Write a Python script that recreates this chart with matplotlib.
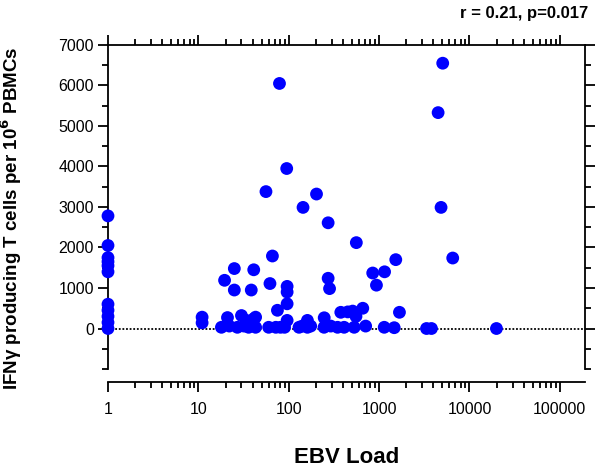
import matplotlib
matplotlib.use("Agg")
import matplotlib.pyplot as plt
from matplotlib.ticker import LogLocator, FixedLocator, NullFormatter, FuncFormatter

plt.rcParams["font.family"] = ["Liberation Sans", "DejaVu Sans"]

# EBV load (copies) vs IFN-gamma producing T cells per 10^6 PBMCs
ebv_load = [1, 1, 1, 1, 1, 1, 1, 1, 1, 1, 1,
            11, 11, 18, 19.5, 21, 22, 25, 25, 27, 30, 32, 34, 36, 38.5, 41, 41, 43, 43,
            56, 60, 62, 66, 72, 75, 79, 81, 90, 95, 96, 96, 96, 96,
            130, 141, 144, 161, 161, 175, 203, 246, 247, 273, 273, 283, 292,
            347, 377, 410, 450, 510, 530, 555, 560, 660, 710,
            850, 935, 1140, 1150, 1470, 1530, 1680,
            3350, 3800, 4500, 4850, 5060, 6530, 19900]
ifn_cells = [2780, 2050, 1750, 1650, 1550, 1400, 600, 450, 300, 150, 0,
             280, 140, 30, 1190, 270, 60, 1480, 950, 30, 320, 60, 200, 30, 950, 1450, 240, 30, 280,
             3380, 30, 1110, 1790, 30, 450, 6050, 30, 30, 3950, 1040, 900, 610, 200,
             30, 60, 2990, 200, 30, 60, 3320, 30, 265, 2610, 1240, 985, 60,
             30, 400, 30, 410, 430, 30, 300, 2120, 500, 60,
             1370, 1070, 30, 1400, 20, 1700, 400,
             0, 0, 5330, 2990, 6550, 1740, 0]

fig = plt.figure(figsize=(6, 4.72), dpi=100)
ax = fig.add_axes([0.18, 0.2182, 0.795, 0.6865])

ax.set_xscale("log")
ax.set_xlim(1, 1.9e5)
ax.set_ylim(-1000, 7000)

ax.plot([1, 1.9e5], [0, 0], ls=(0, (1, 1)), color="black", lw=1.3, zorder=1)
ax.scatter(ebv_load, ifn_cells, s=85, color="#0000ff", edgecolors="none",
           zorder=3, clip_on=False)

for s in ax.spines.values():
    s.set_linewidth(1.3)
ax.spines["bottom"].set_position(("outward", 9))

ax.xaxis.set_major_locator(LogLocator(base=10, numticks=10))
ax.xaxis.set_minor_locator(LogLocator(base=10, subs=range(2, 10), numticks=20))
ax.xaxis.set_minor_formatter(NullFormatter())
ax.xaxis.set_major_formatter(FuncFormatter(lambda v, p: f"{int(round(v))}"))
ax.yaxis.set_major_locator(FixedLocator(range(0, 7001, 1000)))
ax.yaxis.set_minor_locator(FixedLocator(range(-1000, 7001, 500)))

ax.tick_params(which="both", direction="out", width=1.3, top=True, right=True,
               labelsize=11.5, colors="black")
ax.tick_params(which="major", length=7)
ax.tick_params(which="minor", length=4)
ax.tick_params(axis="y", which="major", pad=3)
ax.tick_params(axis="x", which="major", pad=8)

ax.set_xlabel("EBV Load", fontsize=16, fontweight="bold")
ax.xaxis.set_label_coords(0.5, -0.24)
ax.set_ylabel("IFNγ producing T cells per 10$^\\mathbf{6}$ PBMCs", fontsize=13.5,
              fontweight="bold")
ax.yaxis.set_label_coords(-0.176, 0.465)

fig.text(0.98, 0.972, "r = 0.21, p=0.017", ha="right", va="center",
         fontsize=12, fontweight="bold")

fig.savefig("out.png", dpi=100)
